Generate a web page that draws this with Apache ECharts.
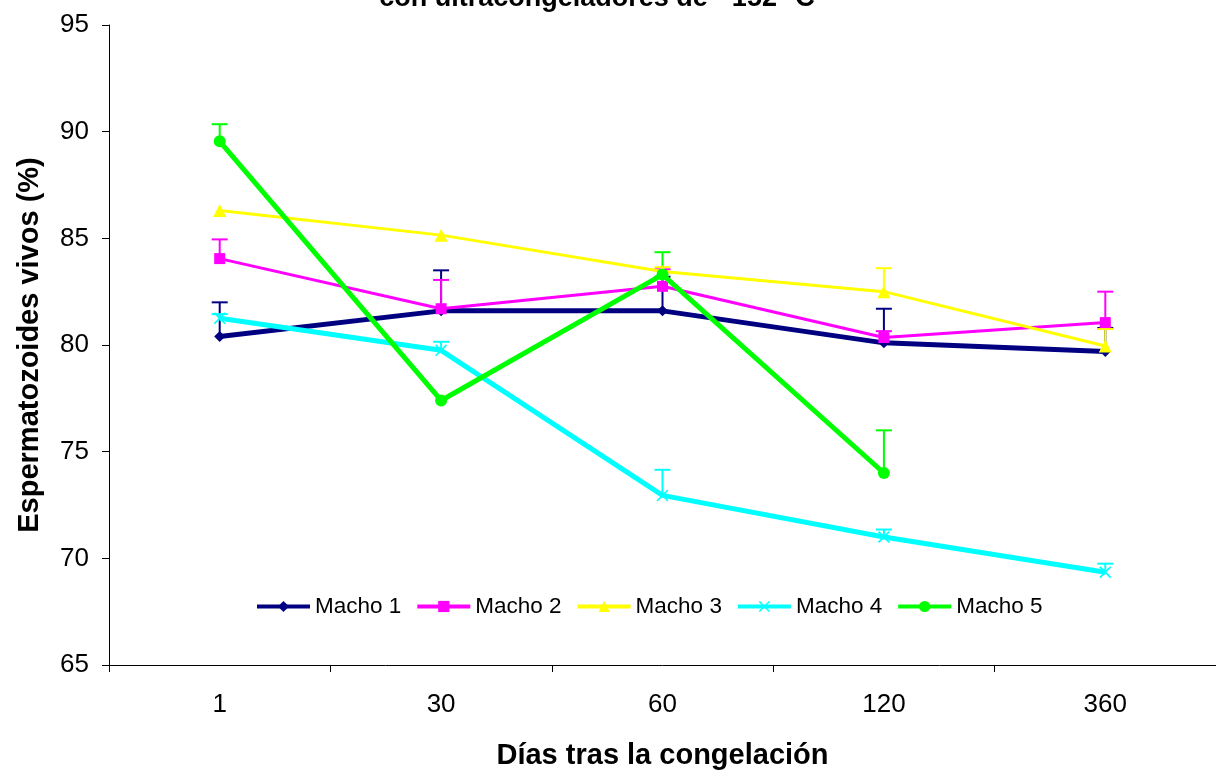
<!DOCTYPE html>
<html>
<head>
<meta charset="utf-8">
<script src="https://cdn.jsdelivr.net/npm/echarts@6/dist/echarts.min.js"></script>
<style>
  html, body { margin: 0; padding: 0; background: #fff; }
  #chart { width: 1216px; height: 775px; }
</style>
</head>
<body>
<div id="chart"></div>
<script>
const categories = ["1", "30", "60", "120", "360"];
const seriesNames = ["Macho 1", "Macho 2", "Macho 3", "Macho 4", "Macho 5"];
const macho1 = [80.4, 81.6, 81.6, 80.1, 79.7];
const macho2 = [84.05, 81.7, 82.75, 80.35, 81.05];
const macho3 = [86.3, 85.15, 83.45, 82.5, 79.95];
const macho4 = [81.25, 79.75, 72.95, 71.0, 69.35];
const macho5 = [89.55, 77.4, 83.3, 74.0, null];
// upper error amounts
const err1 = [1.6, 1.9, 1.6, 1.6, 1.1];
const err2 = [0.9, 1.35, 0.8, 0.3, 1.45];
const err3 = [0, 0, 0.2, 1.1, 0.8];
const err4 = [0.2, 0.4, 1.2, 0.35, 0.4];
const err5 = [0.8, 0, 1.05, 2.0, null];

document.addEventListener("DOMContentLoaded", function () {
  const myChart = echarts.init(document.getElementById("chart"));
  const font = "Liberation Sans, Arial, sans-serif";
  const values = [macho1, macho2, macho3, macho4, macho5];
  const errors = [err1, err2, err3, err4, err5];
  const colors = ["#000080", "#FF00FF", "#FFFF00", "#00FFFF", "#00FF00"];
  const widths = [5, 3, 3, 5, 5];
  const symbols = [
    "diamond",
    "rect",
    "triangle",
    "path://M1,0 L5,4 L9,0 L10,1 L6,5 L10,9 L9,10 L5,6 L1,10 L0,9 L4,5 L0,1 Z",
    "circle",
  ];
  const symbolSizes = [11, 11, 13, 12, 12];

  const series = [];
  values.forEach(function (vals, k) {
    const errData = [];
    vals.forEach(function (v, i) {
      const e = errors[k][i];
      if (v != null && e) errData.push([i, v, v + e]);
    });
    series.push({
      name: "err" + k,
      type: "custom",
      z: 1,
      silent: true,
      data: errData,
      renderItem: function (params, api) {
        const p0 = api.coord([api.value(0), api.value(1)]);
        const p1 = api.coord([api.value(0), api.value(2)]);
        const style = { stroke: colors[k], lineWidth: 2 };
        return {
          type: "group",
          children: [
            { type: "line", shape: { x1: p0[0], y1: p0[1], x2: p1[0], y2: p1[1] }, style: style },
            { type: "line", shape: { x1: p1[0] - 8, y1: p1[1], x2: p1[0] + 8, y2: p1[1] }, style: style },
          ],
        };
      },
    });
    series.push({
      name: seriesNames[k],
      type: "line",
      z: 2 + k,
      data: vals,
      symbol: symbols[k],
      symbolSize: symbolSizes[k],
      showAllSymbol: true,
      connectNulls: false,
      lineStyle: { color: colors[k], width: widths[k] },
      itemStyle: { color: colors[k] },
    });
  });

  const option = {
    animation: false,
    title: {
      text: "con ultracongeladores de - 152 °C",
      left: 592,
      textAlign: "center",
      top: -20,
      textStyle: { fontFamily: font, fontSize: 27, fontWeight: "bold", color: "#000" },
    },
    legend: {
      data: seriesNames,
      left: 250,
      top: 590,
      itemWidth: 53,
      itemHeight: 14,
      itemGap: 14,
      lineStyle: { width: 4 },
      textStyle: { fontFamily: font, fontSize: 22.5, color: "#000" },
    },
    grid: { left: 109, right: -6, top: 25, bottom: 106 },
    xAxis: {
      type: "category",
      data: categories,
      name: "Días tras la congelación",
      nameLocation: "middle",
      nameGap: 76,
      nameTextStyle: { fontFamily: font, fontSize: 29, fontWeight: "bold", color: "#000" },
      axisLine: { lineStyle: { color: "#000", width: 1 } },
      axisTick: { show: true, length: 7, lineStyle: { color: "#000" } },
      axisLabel: { fontFamily: font, fontSize: 26, color: "#000", margin: 27 },
      splitLine: { show: false },
    },
    yAxis: {
      type: "value",
      min: 65,
      max: 95,
      interval: 5,
      name: "Espermatozoides vivos (%)",
      nameLocation: "middle",
      nameGap: 65,
      nameTextStyle: { fontFamily: font, fontSize: 29, fontWeight: "bold", color: "#000" },
      axisLine: { show: true, lineStyle: { color: "#000", width: 1 } },
      axisTick: { show: true, length: 7, lineStyle: { color: "#000" } },
      axisLabel: { fontFamily: font, fontSize: 26, color: "#000", margin: 20 },
      splitLine: { show: false },
    },
    series: series,
  };
  myChart.setOption(option);
  window.addEventListener("resize", function () {
    myChart.resize();
  });
});
</script>
</body>
</html>
